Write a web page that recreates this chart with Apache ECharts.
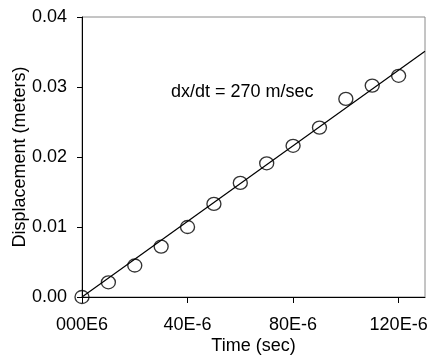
<!DOCTYPE html>
<html>
<head>
<meta charset="utf-8">
<script src="https://cdn.jsdelivr.net/npm/echarts@6/dist/echarts.min.js"></script>
<style>
html,body{margin:0;padding:0;background:#fff;}
#chart{width:430px;height:355px;}
</style>
</head>
<body>
<div id="chart"></div>
<script>
// Measured data (time in seconds, displacement in meters)
var timeValues = [0, 10e-6, 20e-6, 30e-6, 40e-6, 50e-6, 60e-6, 70e-6, 80e-6, 90e-6, 100e-6, 110e-6, 120e-6];
var displacementValues = [0.0000, 0.0021, 0.0045, 0.0072, 0.0100, 0.0133, 0.0163, 0.0191, 0.0216, 0.0242, 0.0283, 0.0302, 0.0316];
// Fitted line endpoints (dx/dt = 270 m/sec)
var fitTime = [0, 130e-6];
var fitDisplacement = [0, 0.0351];
// Axis tick labels
var xTickValues = [0, 40e-6, 80e-6, 120e-6];
var xTickLabels = ['000E6', '40E-6', '80E-6', '120E-6'];
var yTickValues = [0, 0.01, 0.02, 0.03, 0.04];
var yTickLabels = ['0.00', '0.01', '0.02', '0.03', '0.04'];
var annotationText = 'dx/dt = 270 m/sec';

var FONT = '"Liberation Sans", Arial, sans-serif';
var chart = echarts.init(document.getElementById('chart'), null, {renderer: 'canvas'});

function lookup(values, labels, v) {
  for (var i = 0; i < values.length; i++) {
    if (Math.abs(values[i] - v) < 1e-9) return labels[i];
  }
  return '';
}

var option = {
  animation: false,
  backgroundColor: '#fff',
  grid: {
    left: 82, right: 5, top: 17, bottom: 58,
    containLabel: false,
    outerBoundsMode: 'none',
    show: true, borderColor: '#8a8a8a', borderWidth: 1, backgroundColor: 'transparent'
  },
  xAxis: {
    type: 'value',
    min: 0, max: 130e-6, interval: 40e-6,
    name: 'Time (sec)',
    nameLocation: 'middle',
    nameGap: 40,
    nameMoveOverlap: false,
    nameTextStyle: {color: '#000', fontSize: 18, fontFamily: FONT},
    axisLine: {show: true, onZero: false, lineStyle: {color: '#000', width: 1}},
    axisTick: {show: true, inside: false, length: 6, lineStyle: {color: '#000'}, customValues: xTickValues},
    axisLabel: {
      color: '#000', fontSize: 18, fontFamily: FONT, margin: 19,
      customValues: xTickValues,
      formatter: function (v) { return lookup(xTickValues, xTickLabels, v); }
    },
    splitLine: {show: false}
  },
  yAxis: {
    type: 'value',
    min: 0, max: 0.04, interval: 0.01,
    name: 'Displacement (meters)',
    nameLocation: 'middle',
    nameGap: 53,
    nameMoveOverlap: false,
    nameTextStyle: {color: '#000', fontSize: 18, fontFamily: FONT},
    axisLine: {show: true, onZero: false, lineStyle: {color: '#000', width: 1}},
    axisTick: {show: true, inside: false, length: 5, lineStyle: {color: '#000'}},
    axisLabel: {
      color: '#000', fontSize: 18, fontFamily: FONT, margin: 15,
      formatter: function (v) { return lookup(yTickValues, yTickLabels, v); }
    },
    splitLine: {show: false}
  },
  series: [
    {
      type: 'line',
      data: fitTime.map(function (t, i) { return [t, fitDisplacement[i]]; }),
      symbol: 'none',
      lineStyle: {color: '#000', width: 1.2},
      clip: true,
      z: 2
    },
    {
      type: 'scatter',
      data: timeValues.map(function (t, i) { return [t, displacementValues[i]]; }),
      symbol: 'circle',
      symbolSize: [14, 13],
      itemStyle: {color: 'transparent', borderColor: '#000', borderWidth: 1.3},
      clip: false,
      z: 3
    }
  ],
  graphic: [
    {
      type: 'text',
      x: 171, y: 92,
      style: {
        text: annotationText,
        fill: '#000',
        font: '18px ' + FONT,
        verticalAlign: 'middle',
        align: 'left'
      }
    }
  ]
};
chart.setOption(option);
</script>
</body>
</html>
